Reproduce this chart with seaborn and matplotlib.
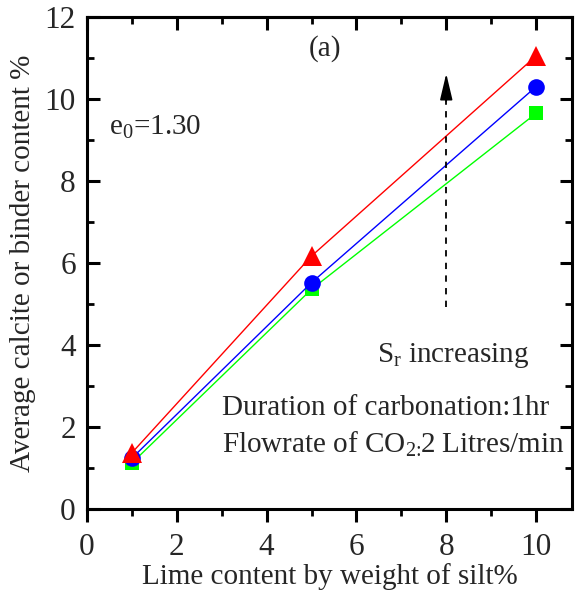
import matplotlib
matplotlib.use("Agg")
import matplotlib.pyplot as plt
import seaborn as sns
import pandas as pd
from matplotlib.ticker import MultipleLocator

sns.set_theme(style="white")
plt.rcParams['font.family'] = ['Liberation Serif', 'DejaVu Serif']
plt.rcParams['mathtext.fontset'] = 'custom'
plt.rcParams['mathtext.rm'] = 'Liberation Serif'
plt.rcParams['mathtext.it'] = 'Liberation Serif'

lime = [1, 5, 10]
green_vals = [1.12, 5.36, 9.65]
blue_vals = [1.24, 5.52, 10.30]
red_vals = [1.37, 6.17, 11.05]

series_names = ["low", "mid", "high"]
series_vals = [green_vals, blue_vals, red_vals]
colors = ["#00ff00", "#0000ff", "#ff0000"]
markers = ["s", "o", "^"]
msizes = [10, 12, 14]

rows = []
for n, v in zip(series_names, series_vals):
    for xx, yy in zip(lime, v):
        rows.append({"x": xx, "y": yy, "s": n})
df = pd.DataFrame(rows)

fig = plt.figure(figsize=(5.81, 5.98), dpi=100)
ax = fig.add_axes([0.1497, 0.1488, 0.9845 - 0.1497, 0.9716 - 0.1488])

for n, c, m, ms in zip(series_names, colors, markers, msizes):
    sub = df[df["s"] == n]
    sns.lineplot(data=sub, x="x", y="y", color=c, marker=m, markersize=ms,
                 markeredgewidth=0, linewidth=1.0, ax=ax, legend=False)

ax.set_xlim(0, 10.8)
ax.set_ylim(0, 12)
ax.xaxis.set_major_locator(MultipleLocator(2))
ax.xaxis.set_minor_locator(MultipleLocator(1))
ax.yaxis.set_major_locator(MultipleLocator(2))
ax.yaxis.set_minor_locator(MultipleLocator(1))

for sp in ax.spines.values():
    sp.set_linewidth(2.2)
    sp.set_color("black")

ax.tick_params(axis="x", which="both", bottom=True, top=False, direction="out", labelsize=22.5, pad=8)
ax.tick_params(axis="y", which="both", left=True, right=True, direction="in", labelsize=22.5, pad=8)
ax.tick_params(which="major", length=9, width=2.2, color="black")
ax.tick_params(which="minor", length=5, width=2.0, color="black")

top = ax.secondary_xaxis("top")
top.xaxis.set_major_locator(MultipleLocator(2))
top.xaxis.set_minor_locator(MultipleLocator(1))
top.tick_params(which="both", direction="in", labeltop=False, color="black")
top.tick_params(which="major", length=9, width=2.2)
top.tick_params(which="minor", length=5, width=2.0)
top.spines["top"].set_linewidth(2.2)

ax.set_xlabel("Lime content by weight of silt%", fontsize=21, labelpad=1)
ax.set_ylabel("Average calcite or binder content %", fontsize=21, labelpad=6)

ax.text(5.3, 11.24, "(a)", fontsize=21, ha="center", va="center")
ax.text(0.5, 9.3, r"e$_0$=1.30", fontsize=21, ha="left", va="center")
ax.plot([8.0, 8.0], [4.93, 10.0], color="black", lw=1.3, linestyle=(0, (3.5, 3.5)))
ax.annotate("", xy=(8.0, 10.62), xytext=(8.0, 9.95),
            arrowprops=dict(arrowstyle="-|>,head_length=1.35,head_width=0.32",
                            color="black", lw=1.2, shrinkA=0, shrinkB=0))
ax.text(6.46, 3.58, r"S$_\mathrm{r}$ increasing", fontsize=21, ha="left", va="baseline")
ax.text(3.0, 2.29, "Duration of carbonation:1hr", fontsize=21, ha="left", va="baseline")
ax.text(3.0, 1.37, r"Flowrate of CO$_{2\!:\!\!}$2 Litres/min", fontsize=21, ha="left", va="baseline")

fig.savefig("out.png", dpi=100)
